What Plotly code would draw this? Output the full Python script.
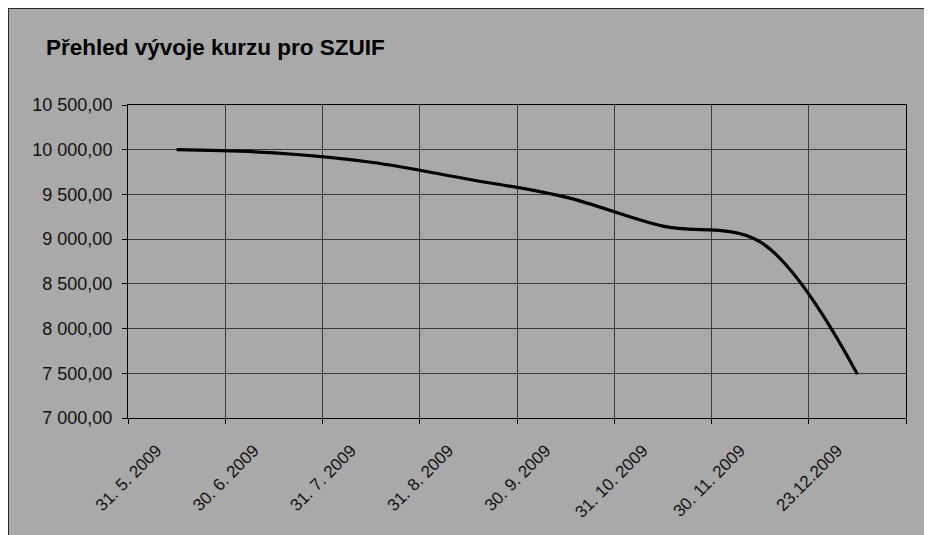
import plotly.graph_objects as go

dates = ["31. 5. 2009", "30. 6. 2009", "31. 7. 2009", "31. 8. 2009",
         "30. 9. 2009", "31. 10. 2009", "30. 11. 2009", "23.12.2009"]
kurz = [10000, 9965, 9860, 9670, 9470, 9145, 8970, 7490]
y_ticks = [7000, 7500, 8000, 8500, 9000, 9500, 10000, 10500]

# the page body adds an 8px offset; margins are chosen so the plot area lands
# at page x 128..906, y 105..418
W, H = 932, 535
ML, MR, MT, MB = 120, 34, 97, 125
pw, ph = W - ML - MR, H - MT - MB

def px_x(px):
    return (px - ML) / pw

def px_y(py):
    return (H - MB - py) / ph

GRAY = "#a9a9a9"
FONT = "Liberation Sans, Arial, sans-serif"

fig = go.Figure()
fig.add_trace(go.Scatter(
    x=dates, y=kurz, mode="lines",
    line=dict(color="black", width=3.2, shape="spline", smoothing=1.0),
    showlegend=False, hoverinfo="x+y",
))

fig.update_layout(
    width=W, height=H,
    margin=dict(l=ML, r=MR, t=MT, b=MB, autoexpand=False),
    paper_bgcolor=GRAY,
    plot_bgcolor=GRAY,
    separators=", ",
    font=dict(family=FONT, size=17, color="#111"),
    shapes=[
        dict(type="line", xref="paper", yref="paper", layer="below",
             x0=px_x(0.5), x1=px_x(0.5), y0=px_y(0), y1=px_y(H),
             line=dict(color="#2a2a2a", width=1)),
        dict(type="line", xref="paper", yref="paper", layer="below",
             x0=px_x(0), x1=px_x(W), y0=px_y(0.5), y1=px_y(0.5),
             line=dict(color="#2a2a2a", width=1)),
    ],
    annotations=[
        dict(text="<b>Přehled vývoje kurzu pro SZUIF</b>", xref="paper", yref="paper",
             x=px_x(36), y=px_y(40), xanchor="left", yanchor="middle",
             showarrow=False, font=dict(family=FONT, size=22.5, color="black")),
    ],
)

fig.update_xaxes(
    type="category", tickson="boundaries", automargin=False,
    showgrid=True, gridcolor="#3a3a3a", gridwidth=1,
    showline=True, linecolor="black", linewidth=1, mirror=True,
    ticks="outside", ticklen=5, tickcolor="black",
    tickangle=-45, tickfont=dict(family=FONT, size=17, color="#111"),
    ticklabelshift=-20, ticklabelstandoff=15,
    range=[-0.5, len(dates) - 0.5],
)
fig.update_yaxes(
    range=[7000, 10500], tickvals=y_ticks, tickformat=",.2f", automargin=False,
    showgrid=True, gridcolor="#3a3a3a", gridwidth=1,
    showline=True, linecolor="black", linewidth=1, mirror=True,
    ticks="outside", ticklen=5, tickcolor="black",
    tickfont=dict(family=FONT, size=18, color="#111"),
    ticklabelstandoff=6,
    zeroline=False,
)

fig.write_html("out.html")
